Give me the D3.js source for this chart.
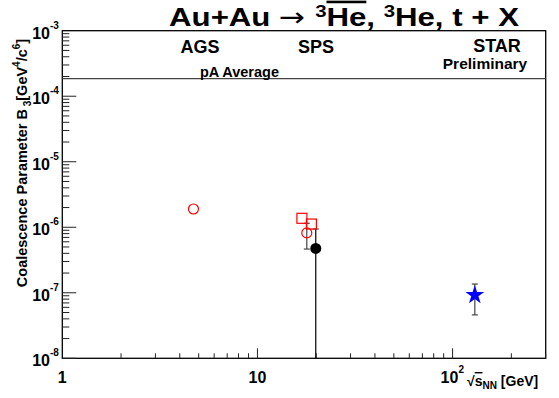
<!DOCTYPE html>
<html>
<head>
<meta charset="utf-8">
<script src="https://cdn.jsdelivr.net/npm/d3@7"></script>
<style>
  body { margin: 0; background: #fff; }
  text { font-family: "Liberation Sans", Arial, sans-serif; font-weight: bold; }
</style>
</head>
<body>
<div id="chart"></div>
<script>
const kinds    = ["agsCircle", "spsSquare", "spsSquare", "spsCircle", "spsDot", "star"];
const energies = [4.7, 16.9, 18.9, 17.9, 19.9, 130];
const b3Values = [1.9e-6, 1.37e-6, 1.12e-6, 8.2e-7, 4.76e-7, 9.2e-8];
const errHigh  = [null, null, null, 1.15e-6, 9.4e-7, 1.36e-7];
const errLow   = [null, null, null, 4.65e-7, 1e-8, 4.6e-8];

const pAAverage = 1.85e-4;
const xTicks = [1, 10, 100];
const yTicks = [1e-8, 1e-7, 1e-6, 1e-5, 1e-4, 1e-3];
const expLabels = { 1e-8: "-8", 1e-7: "-7", 1e-6: "-6", 1e-5: "-5", 1e-4: "-4", 1e-3: "-3" };
const experiments = [
  { name: "AGS", x: 200, y: 53 },
  { name: "SPS", x: 316, y: 53 },
  { name: "STAR", x: 497, y: 52 },
  { name: "Preliminary", x: 485, y: 69 }
];

const width = 559, height = 398;
const x = d3.scaleLog().domain([1, 300]).range([62.3, 545.7]);
const y = d3.scaleLog().domain([1e-8, 1e-3]).range([358.3, 30.7]);

const svg = d3.select('#chart').append('svg')
  .attr('width', width).attr('height', height);

// frame
svg.append('rect')
  .attr('x', x.range()[0]).attr('y', y.range()[1])
  .attr('width', x.range()[1] - x.range()[0])
  .attr('height', y.range()[0] - y.range()[1])
  .attr('fill', 'none').attr('stroke', '#000').attr('stroke-width', 1.3);

// y ticks (major + minor)
let yMinor = [];
for (let e = -8; e < -3; e++) for (let m = 1; m < 10; m++) yMinor.push(m * Math.pow(10, e));
svg.append('g').selectAll('line').data(yMinor).enter().append('line')
  .attr('x1', x.range()[0]).attr('x2', (d, i) => x.range()[0] + (i % 9 === 0 ? 14 : 7))
  .attr('y1', d => y(d)).attr('y2', d => y(d))
  .attr('stroke', '#222').attr('stroke-width', 1);

// x ticks
let xMinor = [];
for (let e = 0; e < 3; e++) for (let m = 1; m < 10; m++) {
  const v = m * Math.pow(10, e);
  if (v <= 300 && v > 1) xMinor.push(v);
}
svg.append('g').selectAll('line').data(xMinor).enter().append('line')
  .attr('x1', d => x(d)).attr('x2', d => x(d))
  .attr('y1', y.range()[0])
  .attr('y2', d => y.range()[0] - ((d === 10 || d === 100) ? 10 : 5))
  .attr('stroke', '#222').attr('stroke-width', 1);

// y tick labels
const yl = svg.append('g').selectAll('g').data(yTicks).enter().append('g')
  .attr('transform', d => 'translate(57,' + (y(d) + 8) + ')');
yl.append('text').attr('text-anchor', 'end').attr('x', -7).attr('font-size', 16).text('10');
yl.append('text').attr('x', -7).attr('y', -10).attr('font-size', 10).text(d => expLabels[d]);

// x tick labels
svg.append('text').attr('x', x(1)).attr('y', 383).attr('text-anchor', 'middle').attr('font-size', 16).text('1');
svg.append('text').attr('x', x(10)).attr('y', 383).attr('text-anchor', 'middle').attr('font-size', 16).text('10');
svg.append('text').attr('x', x(100) - 12).attr('y', 383).attr('font-size', 16).text('10');
svg.append('text').attr('x', x(100) + 6).attr('y', 373).attr('font-size', 10).text('2');

// x axis title
const xt = svg.append('text').attr('x', 467).attr('y', 386).attr('font-size', 14);
xt.append('tspan').text('\u221A');
xt.append('tspan').attr('text-decoration', 'overline').text('s');
xt.append('tspan').attr('font-size', 10).attr('dy', 3).text('NN');
xt.append('tspan').attr('dy', -3).text(' [GeV]');

// y axis title
const yt = svg.append('text')
  .attr('transform', 'translate(27,163) rotate(-90)')
  .attr('text-anchor', 'middle').attr('font-size', 14.5);
yt.append('tspan').text('Coalescence Parameter B');
yt.append('tspan').attr('font-size', 10).attr('dy', 4).text(' 3');
yt.append('tspan').attr('dy', -4).text('[GeV');
yt.append('tspan').attr('font-size', 10).attr('dy', -7).text('4');
yt.append('tspan').attr('dy', 7).text('/c');
yt.append('tspan').attr('font-size', 10).attr('dy', -7).text('6');
yt.append('tspan').attr('dy', 7).text(']');

// title (glyphs stretched sideways like the original's wide bold face)
const tt = svg.append('text').attr('transform', 'translate(344,26) scale(1.2,1)')
  .attr('text-anchor', 'middle').attr('font-size', 26);
tt.append('tspan').text('Au+Au ');
tt.append('tspan').attr('font-weight', 'normal').attr('font-family', 'DejaVu Sans').text('\u2192 ');
tt.append('tspan').attr('font-size', 17).attr('dy', -9).text('3');
tt.append('tspan').attr('dy', 9).attr('text-decoration', 'overline').text('He');
tt.append('tspan').text(', ');
tt.append('tspan').attr('font-size', 17).attr('dy', -9).text('3');
tt.append('tspan').attr('dy', 9).text('He, t + X');

// experiment labels
svg.append('g').selectAll('text').data(experiments).enter().append('text')
  .attr('x', d => d.x).attr('y', d => d.y)
  .attr('text-anchor', 'middle').attr('font-size', d => d.name === 'Preliminary' ? 15.5 : 18)
  .text(d => d.name);

// pA average line
svg.append('line')
  .attr('x1', x.range()[0]).attr('x2', x.range()[1])
  .attr('y1', y(pAAverage)).attr('y2', y(pAAverage))
  .attr('stroke', '#444').attr('stroke-width', 1.2);
svg.append('text').attr('x', 200).attr('y', y(pAAverage) - 2)
  .attr('font-size', 14.5).text('pA Average');

// data
const pts = kinds.map((k, i) => ({ kind: k, e: energies[i], v: b3Values[i], hi: errHigh[i], lo: errLow[i] }));

const eb = svg.append('g').selectAll('g').data(pts.filter(d => d.hi !== null)).enter().append('g');
eb.append('line')
  .attr('x1', d => x(d.e)).attr('x2', d => x(d.e))
  .attr('y1', d => y(d.hi)).attr('y2', d => y(d.lo))
  .attr('stroke', d => d.kind === 'spsDot' ? '#000' : '#444').attr('stroke-width', 1.2);
eb.append('line')
  .attr('x1', d => x(d.e) - 3).attr('x2', d => x(d.e) + 3)
  .attr('y1', d => y(d.hi)).attr('y2', d => y(d.hi))
  .attr('stroke', '#444').attr('stroke-width', 1.2);
eb.filter(d => d.kind !== 'spsDot').append('line')
  .attr('x1', d => x(d.e) - 3).attr('x2', d => x(d.e) + 3)
  .attr('y1', d => y(d.lo)).attr('y2', d => y(d.lo))
  .attr('stroke', '#444').attr('stroke-width', 1.2);

const star = d3.symbol().type(d3.symbolStar).size(110);
const g = svg.append('g').selectAll('g').data(pts).enter().append('g')
  .attr('transform', d => 'translate(' + x(d.e) + ',' + y(d.v) + ')');
g.each(function (d) {
  const s = d3.select(this);
  if (d.kind === 'agsCircle' || d.kind === 'spsCircle') {
    s.append('circle').attr('r', 5).attr('fill', 'none').attr('stroke', '#f00').attr('stroke-width', 1.2);
  } else if (d.kind === 'spsSquare') {
    s.append('rect').attr('x', -5).attr('y', -5).attr('width', 10).attr('height', 10)
      .attr('fill', 'none').attr('stroke', '#f00').attr('stroke-width', 1.2);
  } else if (d.kind === 'spsDot') {
    s.append('circle').attr('r', 5.5).attr('fill', '#000');
  } else {
    s.append('path').attr('d', star).attr('fill', '#00f');
  }
});
</script>
</body>
</html>
